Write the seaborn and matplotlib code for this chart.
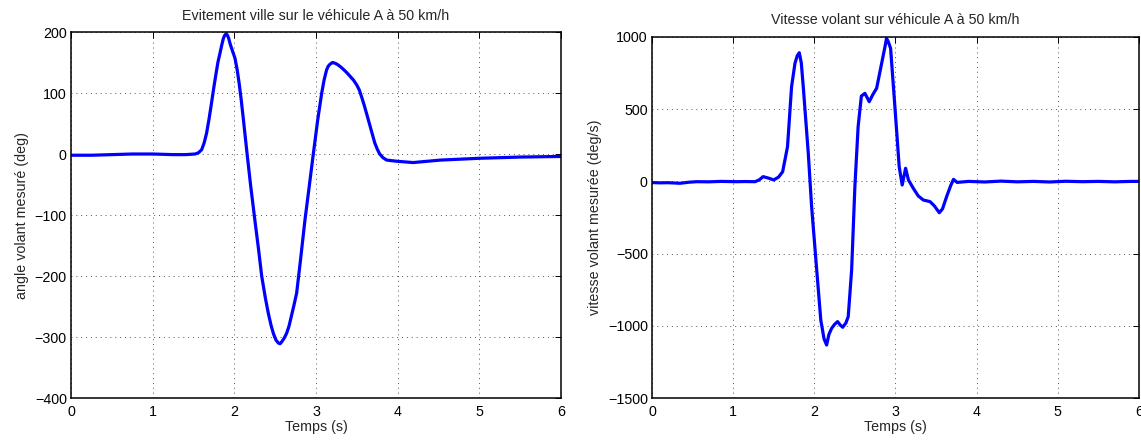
import matplotlib
matplotlib.use("Agg")
import matplotlib.pyplot as plt
import seaborn as sns
import pandas as pd

# ---- data ----
t_angle = [0.0, 0.25, 0.5, 0.75, 1.0, 1.25, 1.4, 1.52, 1.56, 1.60, 1.63, 1.66, 1.69, 1.72, 1.75,
           1.78, 1.80, 1.824, 1.845, 1.865, 1.88, 1.898, 1.915, 1.93, 1.95, 1.975, 2.008,
           2.035, 2.06, 2.085, 2.11, 2.15, 2.20, 2.253, 2.30, 2.335, 2.38, 2.416, 2.45, 2.48,
           2.51, 2.54, 2.56, 2.58, 2.61, 2.64, 2.67, 2.70, 2.73, 2.763, 2.81, 2.865, 2.92,
           2.967, 3.02, 3.07, 3.10, 3.13, 3.15, 3.17, 3.19, 3.204, 3.23, 3.26, 3.30, 3.334,
           3.38, 3.42, 3.46, 3.50, 3.53, 3.56, 3.59, 3.62, 3.67, 3.72, 3.75, 3.78, 3.82,
           3.865, 4.0, 4.19, 4.52, 5.0, 5.5, 6.0]
angle = [-2, -2, -1, 0, 0, -1, -1, 0, 2, 7, 18, 34, 57, 83, 110,
         135, 151, 165, 178, 189, 194, 197, 195, 190, 180, 170, 157,
         138, 115, 88, 58, 8, -52, -110, -160, -200, -236, -261, -281, -295,
         -305, -310, -311, -308, -302, -294, -282, -265, -248, -228, -174, -108, -50,
         0, 55, 100, 122, 138, 144, 147, 149, 150, 149, 147, 143, 139,
         133, 127, 121, 113, 105, 93, 80, 66, 42, 18, 8, 0, -6,
         -10, -12, -14, -10, -7, -5, -4]

t_speed = [0.0, 0.1, 0.2, 0.345, 0.45, 0.55, 0.7, 0.85, 1.04, 1.15, 1.27, 1.32, 1.37, 1.44,
           1.50, 1.56, 1.61, 1.67, 1.72, 1.762, 1.79, 1.815, 1.84, 1.864, 1.926, 1.967, 2.03,
           2.08, 2.12, 2.152, 2.18, 2.214, 2.25, 2.287, 2.32, 2.35, 2.39, 2.418, 2.46, 2.50,
           2.54, 2.58, 2.624, 2.677, 2.72, 2.768, 2.83, 2.87, 2.89, 2.91, 2.94, 2.99, 3.046,
           3.083, 3.125, 3.16, 3.22, 3.28, 3.343, 3.426, 3.48, 3.54, 3.58, 3.63, 3.68, 3.715,
           3.76, 3.9, 4.1, 4.3, 4.5, 4.7, 4.9, 5.1, 5.3, 5.5, 5.7, 5.9, 6.0]
speed = [-8, -10, -9, -13, -6, -2, -3, 0, -2, -1, -2, 10, 33, 22,
         10, 30, 67, 240, 656, 818, 870, 891, 820, 656, 194, -175, -614,
         -960, -1090, -1133, -1060, -1017, -990, -971, -995, -1010, -980, -937, -614, -37,
         379, 591, 610, 552, 600, 645, 818, 930, 991, 970, 922, 541, 102,
         -25, 91, 10, -48, -100, -129, -140, -170, -217, -190, -106, -30, 14,
         -7, 0, -4, 2, -3, 0, -4, 1, -2, 0, -3, 0, 0]

xticks = [0, 1, 2, 3, 4, 5, 6]
yticks_angle = [-400, -300, -200, -100, 0, 100, 200]
yticks_speed = [-1500, -1000, -500, 0, 500, 1000]

df_a = pd.DataFrame({"t": t_angle, "v": angle})
df_s = pd.DataFrame({"t": t_speed, "v": speed})

sns.set_theme(style="white")
plt.rcParams["font.family"] = ["Liberation Sans", "DejaVu Sans"]
plt.rcParams["axes.unicode_minus"] = True

fig = plt.figure(figsize=(11.41, 4.41), dpi=100)
ax1 = fig.add_axes([0.0622, 0.0975, 0.4295, 0.8299])
ax2 = fig.add_axes([0.5714, 0.0975, 0.4268, 0.8186])

FS = 10.3

def style(ax, yticks, ylim, title, ylabel):
    ax.set_xlim(0, 6)
    ax.set_ylim(*ylim)
    ax.set_xticks(xticks)
    ax.set_yticks(yticks)
    ax.set_xticklabels([str(x) for x in xticks])
    ax.set_yticklabels([("\u2212" + str(-y)) if y < 0 else str(y) for y in yticks])
    ax.grid(True, color="#555555", linestyle=(0, (1, 4)), linewidth=0.7)
    ax.tick_params(direction="in", length=4, width=0.7, colors="black",
                   top=True, right=True, labelsize=FS)
    ax.tick_params(axis="x", pad=5)
    ax.tick_params(axis="y", pad=3)
    for s in ax.spines.values():
        s.set_color("black")
        s.set_linewidth(1.1)
        s.set_visible(True)
    ax.set_title(title, fontsize=FS, pad=9)
    ax.set_xlabel("Temps (s)", fontsize=FS, labelpad=1)
    ax.set_ylabel(ylabel, fontsize=FS, labelpad=4)

sns.lineplot(data=df_a, x="t", y="v", ax=ax1, color="#0000ff", linewidth=2.3,
             estimator=None, sort=False)
sns.lineplot(data=df_s, x="t", y="v", ax=ax2, color="#0000ff", linewidth=2.3,
             estimator=None, sort=False)

style(ax1, yticks_angle, (-400, 200),
      "Evitement ville sur le véhicule A à 50 km/h", "angle volant mesuré (deg)")
style(ax2, yticks_speed, (-1500, 1000),
      "Vitesse volant sur véhicule A à 50 km/h", "vitesse volant mesurée (deg/s)")

fig.savefig("out.png", dpi=100)
